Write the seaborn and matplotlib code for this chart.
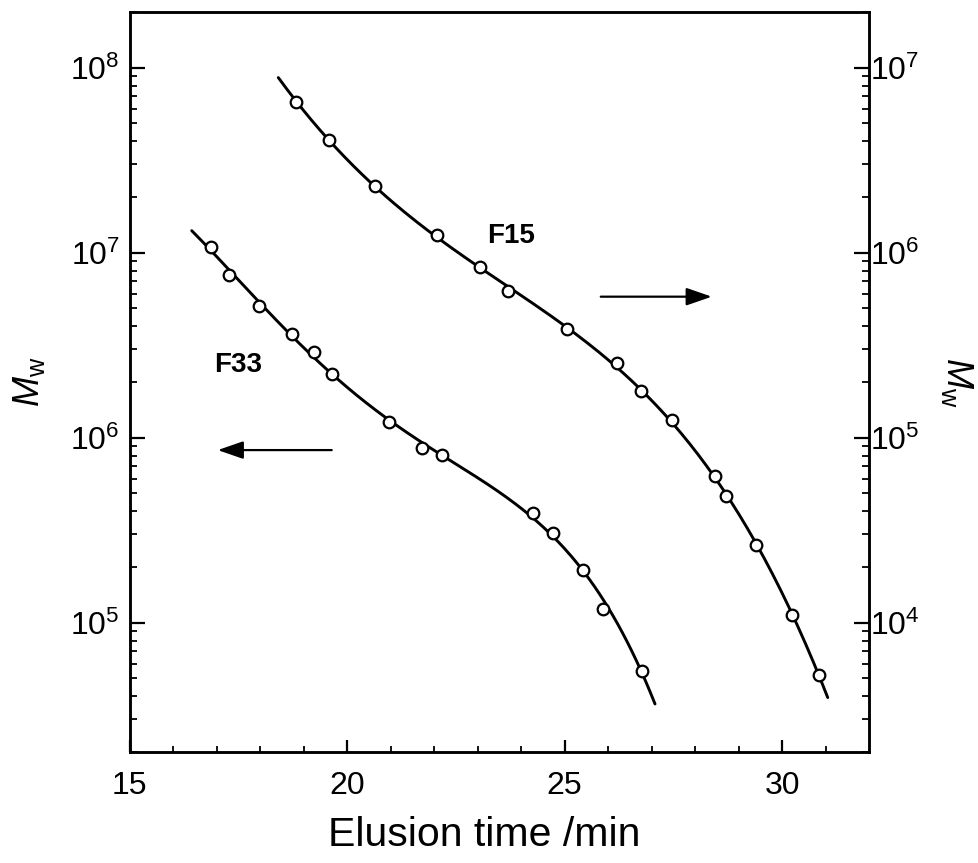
import numpy as np
import pandas as pd
import matplotlib
matplotlib.use("Agg")
import matplotlib.pyplot as plt
import seaborn as sns

# ---- data ----
f33_time = [16.87, 17.28, 17.98, 18.73, 19.24, 19.66, 20.96, 21.73, 22.19, 24.28, 24.74, 25.42, 25.89, 26.79]
f33_mw = [1.08e7, 7.62e6, 5.18e6, 3.65e6, 2.92e6, 2.21e6, 1.21e6, 8.81e5, 8.08e5, 3.90e5, 3.04e5, 1.93e5, 1.19e5, 5.51e4]
f33_fit_range = [16.43, 27.08]

f15_time = [18.83, 19.59, 20.65, 22.06, 23.06, 23.69, 25.06, 26.20, 26.75, 27.48, 28.45, 28.71, 29.40, 30.22, 30.86]
f15_mw = [6.53e6, 4.07e6, 2.28e6, 1.25e6, 8.34e5, 6.17e5, 3.88e5, 2.54e5, 1.78e5, 1.25e5, 6.22e4, 4.82e4, 2.64e4, 1.10e4, 5.24e3]
f15_fit_range = [18.42, 31.05]

x_ticks = [15, 20, 25, 30]
left_ylim = [2e4, 2e8]
right_ylim = [2e3, 2e7]

sns.set_theme(style="ticks")
plt.rcParams['font.family'] = ['Liberation Sans', 'DejaVu Sans']
plt.rcParams['mathtext.fontset'] = 'custom'
plt.rcParams['mathtext.rm'] = 'Liberation Sans'
plt.rcParams['mathtext.it'] = 'Liberation Sans:italic'
plt.rcParams['mathtext.default'] = 'regular'
for k in ('text.color', 'axes.labelcolor', 'xtick.color', 'ytick.color', 'axes.edgecolor'):
    plt.rcParams[k] = 'black'

fig = plt.figure(figsize=(9.79, 8.63), dpi=100)
ax = fig.add_axes([0.1323, 0.1286, 0.7554, 0.8575])
ax2 = ax.twinx()

def fit_curve(t, m, rng, deg=4):
    c = np.polyfit(t, np.log10(m), deg)
    xs = np.linspace(rng[0], rng[1], 200)
    return pd.DataFrame({"t": xs, "m": 10 ** np.polyval(c, xs)})

c33 = fit_curve(f33_time, f33_mw, f33_fit_range)
c15 = fit_curve(f15_time, f15_mw, f15_fit_range)

lw = 2.1
sns.lineplot(data=c33, x="t", y="m", ax=ax, color="black", lw=lw, sort=False)
sns.scatterplot(x=f33_time, y=f33_mw, ax=ax, marker="o", s=70, facecolor="white",
                edgecolor="black", linewidth=1.6, zorder=5)
sns.lineplot(data=c15, x="t", y="m", ax=ax2, color="black", lw=lw, sort=False)
sns.scatterplot(x=f15_time, y=f15_mw, ax=ax2, marker="o", s=70, facecolor="white",
                edgecolor="black", linewidth=1.6, zorder=5)

for a in (ax, ax2):
    a.set_yscale("log")
    for s in a.spines.values():
        s.set_linewidth(1.8)
        s.set_color("black")
ax.set_xlim(15, 32)
ax.set_ylim(*left_ylim)
ax2.set_ylim(*right_ylim)
ax.set_xticks(x_ticks)
ax.set_xticks(np.arange(16, 32, 1), minor=True)

ax.tick_params(axis="x", which="major", direction="in", length=9, width=1.6, labelsize=23, pad=14, top=False)
ax.tick_params(axis="x", which="minor", direction="in", length=4.5, width=1.3, top=False)
ax.tick_params(axis="y", which="major", direction="in", length=11, width=1.6, labelsize=23, pad=7, right=False)
ax.tick_params(axis="y", which="minor", direction="in", length=5, width=1.3, right=False)
ax2.tick_params(axis="y", which="major", direction="in", length=11, width=1.6, labelsize=23, pad=1)
ax2.tick_params(axis="y", which="minor", direction="in", length=5, width=1.3)

ax.set_xlabel("Elusion time /min", fontsize=29.5, va="center")
ax.xaxis.set_label_coords(0.48, -0.112)
ax.set_ylabel(r"$\mathit{M}_\mathregular{w}$", fontsize=26)
ax.yaxis.set_label_coords(-0.112, 0.5)
ax2.set_ylabel(r"$\mathit{M}_\mathregular{w}$", fontsize=26, rotation=270, va="center")
ax2.yaxis.set_label_coords(1.119, 0.5)

ax.text(0.1467, 0.523, "F33", transform=ax.transAxes, fontsize=20, fontweight="bold",
        ha="center", va="center")
ax.text(0.516, 0.697, "F15", transform=ax.transAxes, fontsize=20, fontweight="bold",
        ha="center", va="center")

arrow = dict(arrowstyle="-|>,head_length=1.3,head_width=0.45", color="black", lw=1.6,
             shrinkA=0, shrinkB=0)
ax.annotate("", xy=(0.1193, 0.408), xytext=(0.2734, 0.408), xycoords="axes fraction",
            textcoords="axes fraction", arrowprops=arrow)
ax.annotate("", xy=(0.7873, 0.6153), xytext=(0.6372, 0.6153), xycoords="axes fraction",
            textcoords="axes fraction", arrowprops=arrow)

fig.savefig("out.png", dpi=100)
